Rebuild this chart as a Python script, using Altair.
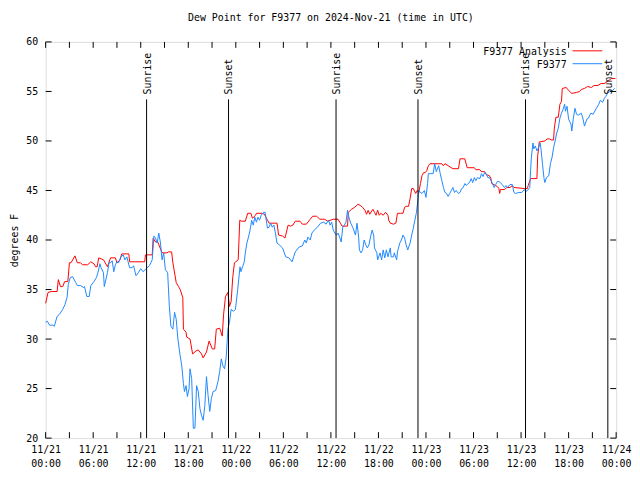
import altair as alt
import pandas as pd

FONT = "DejaVu Sans Mono"

# hours since 2024-11-21 00:00 UTC
an_hours = [0.0, 0.3, 0.7, 1.45, 1.6, 1.87, 2.16, 2.4, 2.8, 3.0, 3.2, 3.7, 4.0, 4.4, 4.65, 5.3, 5.7, 6.1, 6.3, 6.5,
            6.7, 7.3, 7.8, 8.2, 8.8, 9.0, 9.4, 9.6, 10.5, 10.6, 12.5, 12.6, 13.45, 13.57, 13.86, 14.15, 14.4, 14.7,
            15.3, 15.5, 15.9, 16.06, 16.48, 16.77, 16.98, 17.31, 17.39, 17.72, 17.8, 18.22, 18.55, 18.97, 19.26,
            19.67, 19.88, 20.3, 20.63, 21.04, 21.33, 21.54, 21.96, 22.29, 22.46, 22.7, 23.0, 23.2, 23.41, 23.62,
            23.83, 24.3, 24.5, 24.7, 25.2, 25.5, 25.9, 26.1, 26.5, 26.6, 27.3, 27.6, 28.0, 28.2, 29.2, 29.4, 29.9,
            30.2, 30.3, 30.6, 30.9, 31.2, 31.5, 32.1, 32.4, 32.9, 33.4, 33.7, 34.2, 34.6, 35.2, 35.6, 36.3, 36.9,
            37.2, 37.4, 38.1, 38.2, 38.6, 39.0, 39.4, 39.7, 40.0, 40.3, 40.5, 40.7, 40.9, 41.3, 41.5, 41.7, 41.9,
            42.1, 42.3, 42.6, 42.9, 43.2, 43.3, 43.5, 43.9, 44.2, 44.4, 44.8, 45.1, 45.3, 45.5, 45.8, 46.0, 46.2,
            46.4, 46.7, 46.9, 47.1, 47.3, 47.5, 47.7, 47.9, 48.1, 48.3, 48.5, 50.0, 50.2, 50.4, 50.8, 51.4, 52.1,
            52.3, 52.9, 53.2, 54.1, 54.3, 54.8, 55.0, 55.4, 55.6, 56.0, 56.2, 56.3, 56.8, 57.0, 57.2, 57.3, 57.4,
            57.9, 58.2, 58.6, 58.9, 59.1, 60.4, 60.8, 60.9, 61.2, 62.0, 62.1, 62.3, 63.0, 63.3, 63.6, 63.8, 64.1,
            64.2, 64.4, 64.7, 64.9, 65.1, 65.2, 65.7, 66.0, 66.4, 67.0, 67.4, 67.6, 68.0, 68.4, 68.9, 69.2, 69.7,
            70.1, 70.5, 70.9, 71.4, 71.9]
an_values = [33.6, 34.7, 34.8, 34.8, 36.0, 35.3, 35.3, 35.8, 35.8, 37.7, 37.7, 38.4, 37.7, 37.7, 37.5, 37.5, 37.8,
             37.6, 37.3, 37.3, 38.2, 38.0, 37.3, 38.2, 38.2, 37.7, 38.0, 38.6, 38.6, 37.8, 37.8, 38.5, 38.5, 40.2,
             39.8, 39.8, 39.3, 38.7, 38.7, 38.8, 38.8, 37.7, 35.7, 35.3, 35.0, 34.2, 31.0, 30.7, 30.2, 30.0, 28.5,
             28.8, 28.9, 28.5, 28.1, 28.7, 29.8, 29.0, 29.0, 31.0, 31.1, 30.3, 32.5, 34.3, 34.7, 33.3, 33.8, 36.3,
             37.7, 38.0, 42.0, 41.9, 41.9, 42.7, 42.7, 42.2, 42.5, 42.7, 42.7, 42.6, 42.0, 41.7, 41.7, 40.5, 40.4,
             40.2, 40.5, 41.5, 41.4, 41.5, 41.9, 41.9, 41.6, 41.6, 42.1, 42.4, 42.4, 42.1, 42.1, 41.9, 42.1, 42.1,
             41.7, 41.4, 41.4, 42.8, 43.1, 43.3, 43.6, 43.5, 43.3, 43.0, 42.6, 43.0, 42.6, 43.1, 42.8, 42.5, 43.0,
             42.5, 42.7, 42.5, 42.8, 42.5, 42.0, 41.7, 41.6, 41.7, 42.7, 42.7, 42.7, 43.3, 43.4, 43.4, 44.2, 45.2,
             45.2, 44.7, 45.0, 44.8, 45.7, 46.5, 46.8, 46.8, 47.0, 47.5, 47.7, 47.7, 47.5, 47.7, 47.5, 47.2, 47.2,
             48.2, 48.2, 47.3, 47.3, 47.1, 47.1, 46.9, 46.9, 46.6, 46.5, 46.2, 45.7, 45.5, 45.4, 45.2, 44.7, 45.1,
             45.1, 45.3, 45.3, 45.5, 45.3, 45.2, 45.2, 45.5, 46.2, 46.2, 48.5, 49.9, 50.0, 50.2, 50.2, 50.1, 50.1,
             51.3, 52.4, 52.4, 53.7, 54.0, 55.3, 55.4, 55.1, 54.8, 54.9, 55.0, 55.2, 55.3, 55.5, 55.4, 55.6, 55.6,
             55.8, 55.8, 56.0, 56.3, 56.3]

obs_hours = [0.0, 0.21, 0.5, 0.9, 1.1, 1.45, 1.74, 2.16, 2.45, 2.7, 2.86, 3.1, 3.4, 3.8, 4.0, 4.4, 4.8, 4.9, 5.2,
             5.5, 5.7, 6.1, 6.4, 6.6, 6.85, 7.0, 7.3, 7.4, 7.8, 8.0, 8.2, 8.4, 8.6, 8.8, 9.0, 9.2, 9.5, 9.8, 10.0,
             10.25, 10.6, 10.9, 11.1, 11.4, 11.7, 12.0, 12.3, 12.66, 13.1, 13.45, 13.66, 13.86, 14.07, 14.28, 14.49,
             14.69, 14.9, 15.11, 15.4, 15.61, 15.81, 16.06, 16.27, 16.48, 16.69, 16.98, 17.18, 17.39, 17.52, 17.72,
             17.89, 18.1, 18.22, 18.43, 18.64, 18.84, 19.05, 19.26, 19.47, 19.67, 19.88, 20.09, 20.3, 20.5, 20.71,
             20.92, 21.13, 21.46, 21.75, 21.96, 22.17, 22.37, 22.58, 22.79, 23.0, 23.2, 23.41, 23.7, 23.95, 24.24,
             24.53, 24.65, 24.86, 25.07, 25.2, 25.4, 25.6, 25.8, 26.0, 26.2, 26.4, 26.6, 26.8, 27.0, 27.2, 27.5,
             27.7, 27.9, 28.0, 28.2, 28.4, 28.6, 28.8, 29.0, 29.2, 29.5, 29.9, 30.3, 30.7, 31.1, 31.3, 31.5, 32.0,
             32.4, 32.7, 32.9, 33.1, 33.4, 33.6, 33.9, 34.3, 34.7, 35.1, 35.4, 35.7, 35.9, 36.1, 36.3, 36.5, 36.7,
             36.9, 37.1, 37.3, 37.5, 37.7, 37.9, 38.1, 38.2, 38.5, 38.8, 39.1, 39.3, 39.5, 39.6, 39.8, 40.0, 40.2,
             40.4, 40.6, 40.8, 41.0, 41.2, 41.4, 41.5, 41.8, 41.9, 42.2, 42.4, 42.6, 42.8, 43.0, 43.2, 43.5, 43.6,
             43.9, 44.0, 44.3, 44.4, 44.7, 44.9, 45.1, 45.3, 45.5, 45.7, 46.0, 46.2, 46.4, 46.6, 46.8, 47.0, 47.1,
             47.3, 47.5, 47.8, 48.0, 48.2, 48.3, 48.6, 48.9, 49.1, 49.3, 49.6, 49.8, 50.0, 50.2, 50.4, 50.6, 50.8,
             51.0, 51.2, 51.4, 51.6, 51.8, 52.1, 52.3, 52.5, 52.7, 52.9, 53.1, 53.3, 53.5, 53.7, 53.9, 54.1, 54.3,
             54.5, 54.8, 55.0, 55.2, 55.4, 55.6, 55.8, 56.0, 56.2, 56.4, 56.6, 56.8, 57.0, 57.2, 57.4, 57.6, 57.9,
             58.1, 58.3, 58.6, 58.9, 59.1, 59.3, 59.7, 60.1, 60.4, 60.6, 60.8, 61.1, 61.2, 61.3, 61.5, 61.6, 61.8,
             62.0, 62.2, 62.4, 62.5, 62.7, 62.9, 63.0, 63.2, 63.5, 63.7, 63.9, 64.1, 64.3, 64.5, 64.7, 64.9, 65.1,
             65.3, 65.5, 65.6, 65.8, 66.0, 66.3, 66.4, 66.6, 66.8, 67.0, 67.2, 67.6, 67.8, 68.0, 68.3, 68.5, 68.8,
             69.1, 69.5, 69.8, 70.0, 70.3, 70.5, 70.7, 70.9, 71.2, 71.4, 71.8]
obs_values = [31.7, 31.8, 31.4, 31.4, 31.3, 32.3, 32.5, 33.0, 33.5, 34.2, 35.5, 36.2, 36.3, 35.7, 35.4, 35.4, 35.2,
              35.3, 34.3, 34.3, 35.4, 35.8, 36.2, 36.7, 37.6, 37.2, 36.7, 35.3, 36.7, 37.7, 37.7, 37.9, 36.8, 37.5,
              37.8, 37.7, 38.3, 38.5, 38.0, 38.3, 37.2, 37.2, 37.4, 36.4, 36.7, 37.1, 36.8, 37.1, 37.4, 38.0, 40.4,
              40.2, 39.7, 40.7, 39.7, 38.0, 38.7, 37.0, 36.7, 33.3, 31.3, 31.0, 32.7, 32.0, 30.0, 28.3, 27.3, 25.5,
              24.7, 25.3, 24.2, 25.0, 27.0, 26.0, 21.0, 21.0, 25.3, 24.7, 23.0, 22.3, 21.8, 23.3, 26.2, 24.3, 22.7,
              24.0, 24.7, 24.8, 25.7, 26.7, 28.0, 27.3, 27.0, 28.2, 31.0, 31.7, 33.0, 32.8, 33.0, 35.0, 37.3, 36.8,
              37.3, 37.8, 38.7, 39.7, 40.3, 41.0, 42.0, 41.5, 42.3, 41.8, 42.3, 42.0, 42.5, 42.8, 42.8, 41.7, 41.2,
              41.3, 41.7, 41.3, 41.5, 40.7, 39.7, 39.5, 39.2, 38.3, 38.2, 37.8, 38.3, 38.8, 39.3, 39.4, 40.0, 39.7,
              40.3, 40.0, 40.7, 41.0, 41.3, 41.7, 41.8, 41.6, 42.0, 41.5, 41.8, 41.0, 40.7, 40.5, 40.7, 40.3, 39.8,
              41.3, 41.5, 41.8, 43.0, 42.5, 41.7, 41.2, 40.5, 41.7, 40.3, 39.0, 38.7, 39.0, 40.0, 39.5, 39.2, 39.5,
              40.3, 41.0, 40.5, 39.2, 38.7, 38.0, 38.7, 38.0, 39.0, 38.2, 39.0, 38.3, 39.2, 38.3, 38.3, 38.7, 38.0,
              38.8, 39.7, 40.0, 40.5, 40.2, 39.5, 39.0, 39.7, 40.5, 41.2, 42.0, 42.8, 44.2, 45.0, 44.8, 44.7, 45.0,
              44.3, 45.7, 46.7, 46.7, 46.7, 47.7, 46.9, 47.5, 46.7, 46.0, 45.3, 44.8, 44.7, 44.4, 44.7, 45.0, 45.3,
              44.8, 45.0, 44.7, 44.8, 45.2, 45.3, 45.7, 45.5, 45.7, 45.8, 46.2, 45.8, 46.3, 46.0, 46.3, 46.2, 46.7,
              46.4, 46.8, 46.7, 46.3, 46.3, 46.0, 45.7, 45.3, 45.6, 45.9, 45.9, 45.8, 45.6, 45.3, 45.5, 45.3, 45.6,
              45.6, 44.8, 44.7, 44.8, 44.8, 45.1, 44.9, 45.0, 45.3, 47.0, 48.3, 49.8, 49.2, 49.5, 49.0, 49.3, 49.8,
              49.3, 47.7, 46.2, 45.8, 46.3, 46.5, 47.7, 48.3, 49.3, 50.0, 50.8, 51.3, 52.3, 52.8, 53.2, 53.7, 53.0,
              53.5, 52.2, 51.7, 51.0, 52.3, 53.3, 52.7, 52.6, 52.8, 52.3, 51.5, 52.2, 52.3, 52.8, 52.7, 53.3, 53.7,
              54.1, 53.9, 54.3, 54.5, 54.8, 55.0, 55.0, 55.3]

sun_events = ["Sunrise", "Sunset", "Sunrise", "Sunset", "Sunrise", "Sunset"]
sun_hours = [12.74, 23.08, 36.65, 46.99, 60.56, 70.95]

x_label_hours = [0, 6, 12, 18, 24, 30, 36, 42, 48, 54, 60, 66, 72]
x_tick_hours = [0, 3, 6, 9, 12, 15, 18, 21, 24, 27, 30, 33, 36, 39, 42, 45, 48, 51, 54, 57, 60, 63, 66, 69, 72]
y_tick_values = [20, 25, 30, 35, 40, 45, 50, 55, 60]

series_names = ["F9377 Analysis", "F9377"]
series_colors = ["#ff0000", "#1e88ff"]

W, H = 576, 400

xscale = alt.Scale(domain=[0, 72], nice=False, zero=False)
yscale = alt.Scale(domain=[20, 60], nice=False, zero=False)

label_expr = ("['11/' + (21 + floor(datum.value / 24)), "
              "((datum.value % 24) < 10 ? '0' : '') + (datum.value % 24) + ':00']")

x_axis = alt.Axis(values=x_label_hours, labelExpr=label_expr, title=None, ticks=False, tickSize=0,
                  domain=False, grid=False, labelFont=FONT, labelFontSize=10, labelPadding=7,
                  labelColor="black", labelLineHeight=14, labelOverlap=False, labelFlush=False)
y_axis = alt.Axis(values=y_tick_values, title="degrees F", ticks=False, tickSize=0, domain=False, grid=False,
                  labelFont=FONT, labelFontSize=10, labelPadding=8, labelColor="black",
                  titleFont=FONT, titleFontSize=10, titleFontWeight="normal", titleColor="black",
                  titlePadding=6)

X = alt.X("h:Q", scale=xscale, axis=x_axis)
Y = alt.Y("v:Q", scale=yscale, axis=y_axis)

an_df = pd.DataFrame({"h": an_hours, "v": an_values})
obs_df = pd.DataFrame({"h": obs_hours, "v": obs_values})

an_line = alt.Chart(an_df).mark_line(color=series_colors[0], strokeWidth=1).encode(x=X, y=Y)
obs_line = alt.Chart(obs_df).mark_line(color=series_colors[1], strokeWidth=1).encode(x=X, y=Y)

# inward tick marks (gnuplot style, mirrored on all four sides)
xt = pd.DataFrame({"h": x_tick_hours})
bottom_ticks = alt.Chart(xt).mark_rule(color="black", strokeWidth=1).encode(
    x=X, y=alt.value(H), y2=alt.value(H - 6))
top_ticks = alt.Chart(xt).mark_rule(color="black", strokeWidth=1).encode(
    x=X, y=alt.value(0), y2=alt.value(6))
yt = pd.DataFrame({"v": y_tick_values})
left_ticks = alt.Chart(yt).mark_rule(color="black", strokeWidth=1).encode(
    y=Y, x=alt.value(0), x2=alt.value(6))
right_ticks = alt.Chart(yt).mark_rule(color="black", strokeWidth=1).encode(
    y=Y, x=alt.value(W), x2=alt.value(W - 6))

sun_df = pd.DataFrame({"h": sun_hours, "event": sun_events})
sun_rules = alt.Chart(sun_df).mark_rule(color="black", strokeWidth=1).encode(
    x=X, y=alt.value(58), y2=alt.value(H))
sun_text = alt.Chart(sun_df).mark_text(angle=270, align="left", baseline="middle", font=FONT,
                                       fontSize=10, color="black", dy=1).encode(
    x=X, y=alt.value(53), text="event:N")

leg1_t = alt.Chart(pd.DataFrame({"t": [series_names[0]]})).mark_text(
    align="right", baseline="middle", font=FONT, fontSize=10, color="black").encode(
    text="t:N", x=alt.value(W - 50), y=alt.value(10))
leg1_l = alt.Chart(pd.DataFrame({"t": [series_names[0]]})).mark_rule(
    color=series_colors[0], strokeWidth=1).encode(x=alt.value(W - 44), x2=alt.value(W - 14), y=alt.value(9))
leg2_t = alt.Chart(pd.DataFrame({"t": [series_names[1]]})).mark_text(
    align="right", baseline="middle", font=FONT, fontSize=10, color="black").encode(
    text="t:N", x=alt.value(W - 50), y=alt.value(23))
leg2_l = alt.Chart(pd.DataFrame({"t": [series_names[1]]})).mark_rule(
    color=series_colors[1], strokeWidth=1).encode(x=alt.value(W - 44), x2=alt.value(W - 14), y=alt.value(22))

chart = alt.layer(
    an_line, obs_line, sun_rules, sun_text,
    bottom_ticks, top_ticks, left_ticks, right_ticks,
    leg1_t, leg1_l, leg2_t, leg2_l,
).properties(
    width=W, height=H,
    title=alt.Title("Dew Point for F9377 on 2024-Nov-21 (time in UTC)", font=FONT, fontSize=10,
                    fontWeight="normal", color="black", anchor="middle", offset=14),
    autosize=alt.AutoSizeParams(type="none"),
    padding={"left": 38, "top": 32, "right": 16, "bottom": 34},
).configure_view(stroke="black", strokeWidth=1).configure(background="white")

chart.save("out.html", embed_options={"renderer": "svg", "actions": False})
